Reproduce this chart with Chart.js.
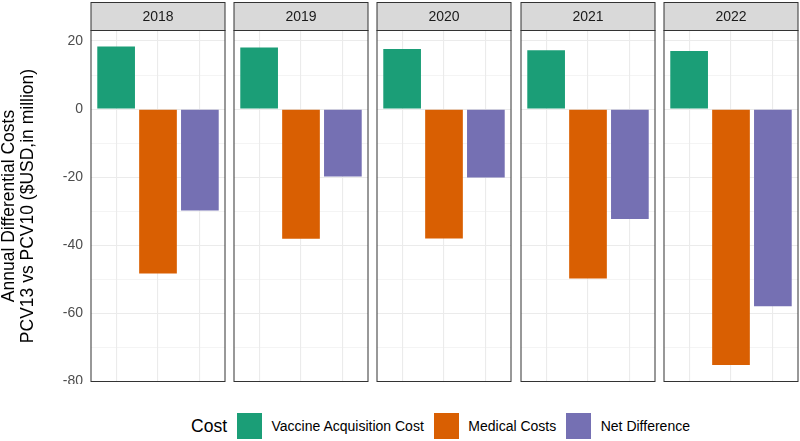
<!DOCTYPE html>
<html>
<head>
<meta charset="utf-8">
<script src="https://cdn.jsdelivr.net/npm/chart.js@4"></script>
<style>
  html, body { margin: 0; padding: 0; background: #fff; }
  #wrap { position: relative; width: 800px; height: 441px; background: #fff; font-family: "Liberation Sans", Arial, sans-serif; }
  .panel { position: absolute; top: 0; height: 384px; }
  #legend { position: absolute; left: 87px; width: 707px; top: 413px; height: 26px;
            display: flex; justify-content: center; align-items: center; color: #000; }
  #legend .ltitle { font-size: 17.5px; }
  #legend .key { width: 25px; height: 26px; margin: 0 9.5px 0 10px; }
  #legend .ltext { font-size: 14px; }
</style>
</head>
<body>
<div id="wrap">
  <div id="legend"></div>
</div>
<script>
// Facetted bar chart: annual differential costs, one panel per year

const years = ['2018', '2019', '2020', '2021', '2022'];
const costTypes = ['Vaccine Acquisition Cost', 'Medical Costs', 'Net Difference'];
const vaccineCost = [18.4, 18.1, 17.7, 17.3, 17.1];
const medicalCosts = [-48.3, -38.1, -38.0, -49.8, -75.2];
const netDifference = [-29.8, -19.8, -20.1, -32.3, -57.9];
const yTickLabels = [-80, -60, -40, -20, 0, 20];
const costColors = ['#1B9E77', '#D95F02', '#7570B3'];

const series = [vaccineCost, medicalCosts, netDifference];
const FONT = '"Liberation Sans", Arial, sans-serif';
const STRIP_H = 28;

// panel boxes (left edge, width) on the page
const panelLefts = [91, 234, 377, 521, 664];
const panelWidth = 134;

// strip on top + border round the panel, ggplot style
const facetPlugin = {
    id: 'facetStrip',
    afterDraw(chart, args, opts) {
        const { ctx, chartArea: a } = chart;
        const w = a.right - a.left;
        ctx.save();
        ctx.fillStyle = '#D9D9D9';
        ctx.fillRect(a.left, a.top - STRIP_H, w, STRIP_H);
        ctx.strokeStyle = '#333333';
        ctx.lineWidth = 1;
        ctx.strokeRect(a.left, a.top - STRIP_H, w, STRIP_H);
        ctx.strokeRect(a.left, a.top, w, a.bottom - a.top);
        ctx.fillStyle = '#1A1A1A';
        ctx.font = '14px ' + FONT;
        ctx.textAlign = 'center';
        ctx.textBaseline = 'middle';
        ctx.fillText(opts.label, a.left + w / 2, a.top - STRIP_H / 2 + 1);
        ctx.restore();
    }
};

function gridWidth(ctx) {
    if (!ctx.tick) return 1;
    return yTickLabels.includes(ctx.tick.value) ? 1.1 : 0.55;
}

function makePanel(k) {
    const first = k === 0;
    const div = document.createElement('div');
    div.className = 'panel';
    const left = first ? 0 : panelLefts[k] - 1;
    const width = first ? panelLefts[0] + panelWidth + 1 : panelWidth + 2;
    div.style.left = left + 'px';
    div.style.width = width + 'px';
    const canvas = document.createElement('canvas');
    div.appendChild(canvas);
    document.getElementById('wrap').appendChild(div);

    const yAxis = {
        min: -80.05,
        max: 23.1,
        border: { display: false },
        grid: { drawTicks: false, color: '#EBEBEB', lineWidth: gridWidth },
        ticks: {
            display: first,
            stepSize: 10,
            includeBounds: false,
            padding: 8,
            color: '#4D4D4D',
            font: { family: FONT, size: 14 },
            callback: v => yTickLabels.includes(v) ? String(v) : ''
        },
        afterFit: scale => {
            if (first) scale.width = panelLefts[0];
            // keep the tick labels from shrinking the panel
            scale.paddingTop = 0;
            scale.paddingBottom = 0;
        }
    };
    if (first) {
        yAxis.title = {
            display: true,
            text: ['Annual Differential Costs', 'PCV13 vs PCV10 ($USD,in million)'],
            color: '#000',
            font: { family: FONT, size: 17.5, lineHeight: '18.5px' },
            padding: { top: 0, bottom: 0 }
        };
    }

    return new Chart(canvas, {
        type: 'bar',
        data: {
            datasets: [{
                label: years[k],
                data: costTypes.map((c, i) => ({ x: i, y: series[i][k] })),
                backgroundColor: costColors,
                barPercentage: 0.9,
                categoryPercentage: 1
            }]
        },
        options: {
            responsive: true,
            maintainAspectRatio: false,
            animation: false,
            layout: { padding: { top: 30.5, bottom: 2.5, left: first ? 0 : 1, right: 1 } },
            plugins: {
                legend: { display: false },
                tooltip: { enabled: false },
                facetStrip: { label: years[k] }
            },
            scales: {
                x: {
                    type: 'linear',
                    min: -0.6,
                    max: 2.6,
                    offset: false,
                    border: { display: false },
                    grid: { drawTicks: false, offset: false, color: '#EBEBEB', lineWidth: 1.1 },
                    ticks: { display: false, stepSize: 1, includeBounds: false }
                },
                y: yAxis
            }
        },
        plugins: [facetPlugin]
    });
}

years.forEach((y, k) => makePanel(k));

// legend
const legend = document.getElementById('legend');
legend.innerHTML = '<span class="ltitle">Cost</span>' + costTypes.map((c, i) =>
    `<span class="key" style="background:${costColors[i]}"></span><span class="ltext">${c}</span>`
).join('');
</script>
</body>
</html>
